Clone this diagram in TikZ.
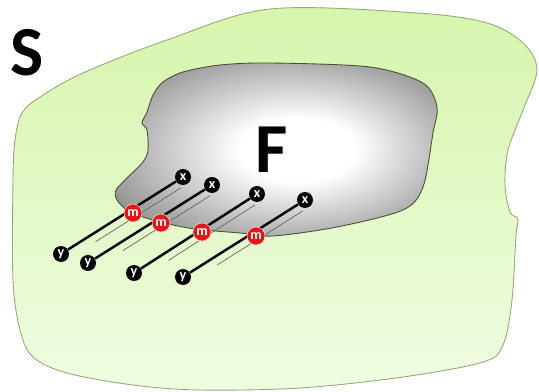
\documentclass[tikz,border=0pt]{standalone}
\usepackage{fontspec}
\setmainfont{Carlito}
\usepackage{tikz}
\usetikzlibrary{calc}
\definecolor{surfacetop}{RGB}{214,245,172}
\definecolor{surfacebottom}{RGB}{240,252,226}
\definecolor{surfaceedge}{RGB}{150,168,118}
\definecolor{fieldedge}{RGB}{72,80,52}
\definecolor{markred}{RGB}{228,22,22}
\pgfdeclareradialshading{fieldshade}{\pgfpoint{4bp}{0bp}}{%
    color(0bp)=(white); color(9bp)=(white);
    color(30bp)=(black!42); color(50bp)=(black!42)}

\begin{document}
\begin{tikzpicture}[
    x=0.02cm, y=-0.02cm,
    endpt/.style={
        circle,
        fill=black,
        text=white,
        inner sep=0pt,
        minimum size=0.32cm,
        font=\fontsize{8}{8}\selectfont\bfseries
    },
    midpt/.style={
        endpt,
        fill=markred,
        draw=white!85!red,
        line width=0.3pt,
        minimum size=0.36cm
    },
    rod/.style={line width=1.4pt, black},
    trace/.style={draw=black!60, line width=0.4pt},
    bigletter/.style={inner sep=0pt, font=\fontsize{40}{40}\selectfont\bfseries}
]
\useasboundingbox (0,0) rectangle (539,392);

% surface S
\path[draw=surfaceedge, line width=0.5pt, top color=surfacetop, bottom color=surfacebottom]
    plot[smooth cycle, tension=0.55] coordinates {
        (270,9) (417,13) (487,23) (523,43) (537,70) (523,110) (508,150)
        (505,185) (510,212) (518,219) (516,235) (512,300) (503,345)
        (483,362) (403,377) (300,388) (200,390) (133,385) (67,373)
        (33,357) (20,330) (13,280) (13,180) (15,140) (22,113) (40,97)
        (83,73) (167,40)};

% region F
\path[draw=fieldedge, line width=0.5pt, shading=fieldshade]
    plot[smooth cycle, tension=0.5] coordinates {
        (220,65) (270,63) (370,67) (423,83) (437,107) (433,133) (423,187)
        (403,210) (337,227) (273,236) (240,233) (195,229) (160,222)
        (130,212) (117,200) (116,190) (127,178) (143,162) (148,150)
        (147,130) (142,123) (147,112) (153,95) (163,82) (183,72)};

\node[bigletter] (S) at (27,53) {S};
\node[bigletter] (F) at (272,150) {F};

% end points
\node[endpt] (x1) at (183,177) {x};
\node[endpt] (y1) at (61,254) {y};
\node[endpt] (x2) at (212,185) {x};
\node[endpt] (y2) at (88,263) {y};
\node[endpt] (x3) at (257,194) {x};
\node[endpt] (y3) at (134,273) {y};
\node[endpt] (x4) at (305,200) {x};
\node[endpt] (y4) at (183,277) {y};

% rods and their traces
\draw[rod] (y1) -- (x1);
\draw[rod] (y2) -- (x2);
\draw[rod] (y3) -- (x3);
\draw[rod] (y4) -- (x4);
\draw[trace] ($(y1)!0.25!(x1)+(4,7)$) -- ($(y1)!0.95!(x1)+(4,7)$);
\draw[trace] ($(y2)!0.25!(x2)+(4,7)$) -- ($(y2)!0.95!(x2)+(4,7)$);
\draw[trace] ($(y3)!0.25!(x3)+(4,7)$) -- ($(y3)!0.95!(x3)+(4,7)$);
\draw[trace] ($(y4)!0.25!(x4)+(4,7)$) -- ($(y4)!0.95!(x4)+(4,7)$);

% midpoints on the boundary
\node[midpt] (m1) at (133,213) {m};
\node[midpt] (m2) at (161,223) {m};
\node[midpt] (m3) at (202,232) {m};
\node[midpt] (m4) at (256,236) {m};

\end{tikzpicture}
\end{document}
